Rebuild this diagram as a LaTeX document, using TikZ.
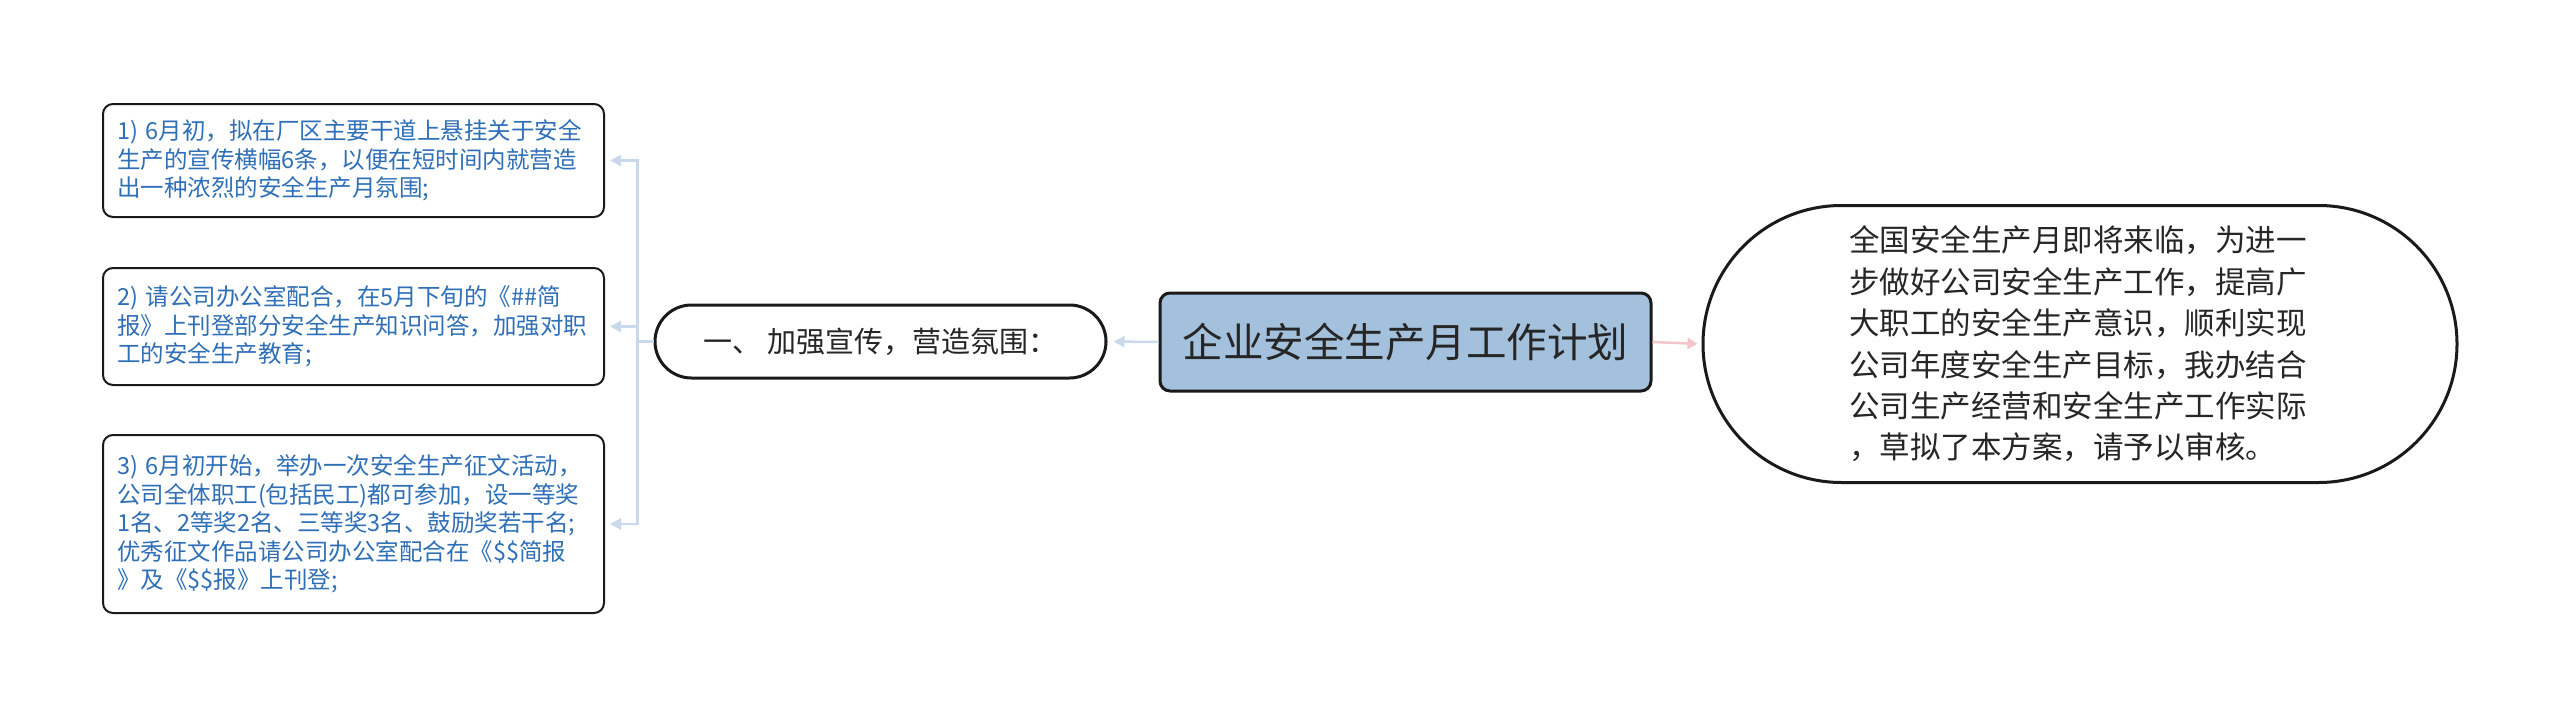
\documentclass[tikz,border=0pt]{standalone}
\usepackage{fontspec}
\setmainfont{Noto Sans CJK SC}
\usetikzlibrary{arrows.meta,shapes.misc}
\definecolor{leafblue}{HTML}{2E6FB7}
\definecolor{rootfill}{HTML}{A3C0DD}
\definecolor{linkblue}{HTML}{C9D9EB}
\definecolor{linkpink}{HTML}{F2C5C8}
\definecolor{edgecol}{HTML}{1A1A1A}
\definecolor{textdark}{HTML}{262626}
\begin{document}
\begin{tikzpicture}[x=1pt,y=-1pt,
  leafbox/.style={draw=edgecol, line width=2pt, rounded corners=10pt, fill=white,
    text=leafblue, font=\fontsize{23.5}{28.5}\selectfont, text width=473pt,
    align=left, inner xsep=14pt, inner ysep=0pt, anchor=west, minimum width=501pt},
  rootbox/.style={draw=edgecol, line width=3pt, rounded corners=10pt, fill=rootfill,
    text=textdark, font=\fontsize{40.5}{48}\selectfont, minimum width=491pt,
    minimum height=98pt, inner sep=0pt},
  pillbox/.style={rounded rectangle, draw=edgecol, line width=3pt, fill=white,
    text=textdark, inner xsep=0pt, inner ysep=0pt},
  bluelink/.style={draw=linkblue, line width=2.5pt, -{Triangle[length=11pt,width=11pt]}},
  pinklink/.style={draw=linkpink, line width=2.5pt, -{Triangle[length=10pt,width=11pt]}},
]
\useasboundingbox (0,0) rectangle (2560,715);

\node[rootbox] (root) at (1405.5,342) {企业安全生产月工作计划};

\node[pillbox, minimum width=451pt, minimum height=73pt,
  font=\fontsize{29}{34}\selectfont] (branch) at (880.5,341.5) {一、 加强宣传，营造氛围：};

\node[pillbox, minimum width=754pt, minimum height=277pt, text width=462pt, align=left,
  font=\fontsize{30.5}{41.4}\selectfont] (summary) at (2080,344) {全国安全生产月即将来临，为进一\\步做好公司安全生产工作，提高广\\大职工的安全生产意识，顺利实现\\公司年度安全生产目标，我办结合\\公司生产经营和安全生产工作实际\\，草拟了本方案，请予以审核。};

\node[leafbox, minimum height=113pt] (leafa) at (102,160.5) {1) 6月初，拟在厂区主要干道上悬挂关于安全\\生产的宣传横幅6条，以便在短时间内就营造\\出一种浓烈的安全生产月氛围;};

\node[leafbox, minimum height=117pt] (leafb) at (102,326.5) {2) 请公司办公室配合，在5月下旬的《\#\#简\\报》上刊登部分安全生产知识问答，加强对职\\工的安全生产教育;};

\node[leafbox, minimum height=178pt] (leafc) at (102,524) {3) 6月初开始，举办一次安全生产征文活动，\\公司全体职工(包括民工)都可参加，设一等奖\\1名、2等奖2名、三等奖3名、鼓励奖若干名;\\优秀征文作品请公司办公室配合在《\$\$简报\\》及《\$\$报》上刊登;};

\coordinate (bus) at (637.5,341.5);

\draw[bluelink, shorten >=6pt] (root.west) -- (branch.east);
\draw[pinklink, shorten >=4pt] (root.east) -- (summary.west);
\draw[draw=linkblue, line width=2.5pt] (branch.west) -- (bus);
\draw[bluelink, shorten >=5pt] (bus) |- (leafa.east);
\draw[bluelink, shorten >=5pt] (bus) |- (leafb.east);
\draw[bluelink, shorten >=5pt] (bus) |- (leafc.east);
\end{tikzpicture}
\end{document}
